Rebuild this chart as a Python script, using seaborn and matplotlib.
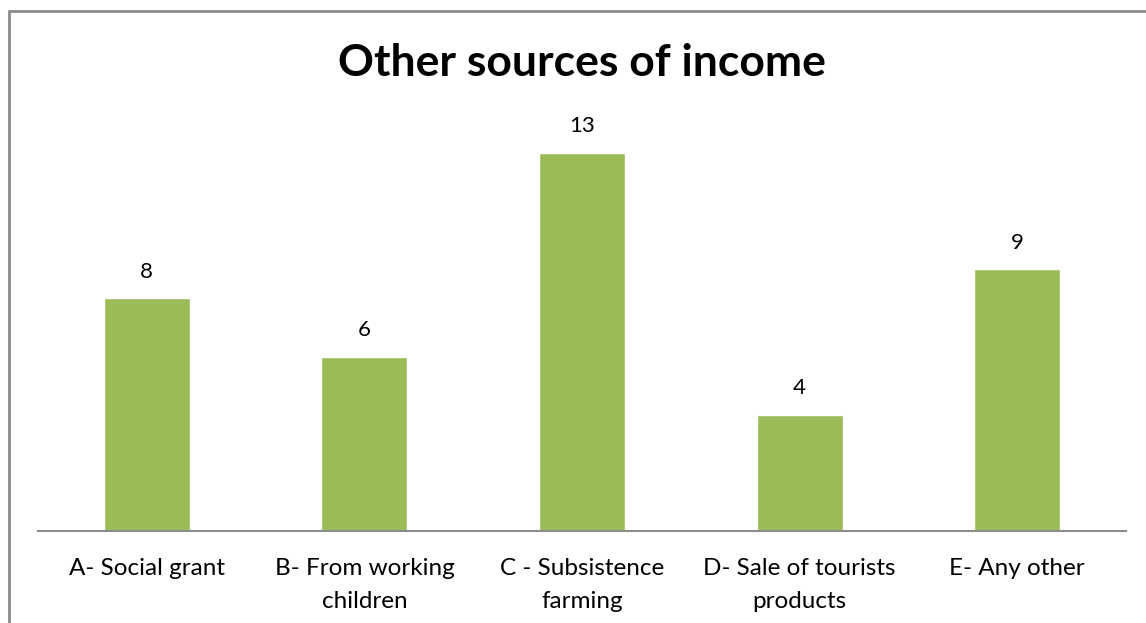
import matplotlib
matplotlib.use("Agg")
import matplotlib.pyplot as plt
import seaborn as sns
import pandas as pd
from matplotlib.patches import Rectangle

categories = ["A- Social grant", "B- From working\nchildren", "C - Subsistence\nfarming",
              "D- Sale of tourists\nproducts", "E- Any other"]
values = [8, 6, 13, 4, 9]

sns.set_theme(style="white")
plt.rcParams['font.family'] = ['Lato', 'DejaVu Sans']

W, H = 1146, 623
fig = plt.figure(figsize=(W / 100, H / 100), dpi=100)
# axes: x 38..1126, baseline y=531, 29.08 px/unit, ylim 0..14
top_px = 531 - 14 * 29.08
ax = fig.add_axes([38 / W, 1 - 531 / H, (1126 - 38) / W, (531 - top_px) / H])

df = pd.DataFrame({"cat": categories, "val": values})
sns.barplot(data=df, x="cat", y="val", color="#9BBB59", saturation=1, width=0.395, ax=ax)
ax.set_ylim(0, 14)
ax.set_xlim(-0.5, 4.5)
for i, v in enumerate(values):
    ax.text(i, v + 0.92, str(v), ha="center", va="center", fontsize=16, color="black")

ax.set_xlabel("")
ax.set_ylabel("")
ax.set_yticks([])
for s in ["top", "right", "left"]:
    ax.spines[s].set_visible(False)
ax.spines["bottom"].set_color("#8C8C8C")
ax.spines["bottom"].set_linewidth(1.5)
ax.tick_params(axis="x", length=0, pad=19.5, labelsize=17.5, colors="black")
for t in ax.get_xticklabels():
    t.set_linespacing(1.68)

fig.text(582 / W, 1 - 63 / H, "Other sources of income", ha="center", va="center",
         fontsize=32, fontweight="bold", color="black")

fig.patches.append(Rectangle((8.5 / W, -0.1), 1.2, 1 - 11.5 / H + 0.1, transform=fig.transFigure,
                             fill=False, edgecolor="#8C8C8C", linewidth=2))

fig.savefig("out.png", dpi=100, facecolor="white")
